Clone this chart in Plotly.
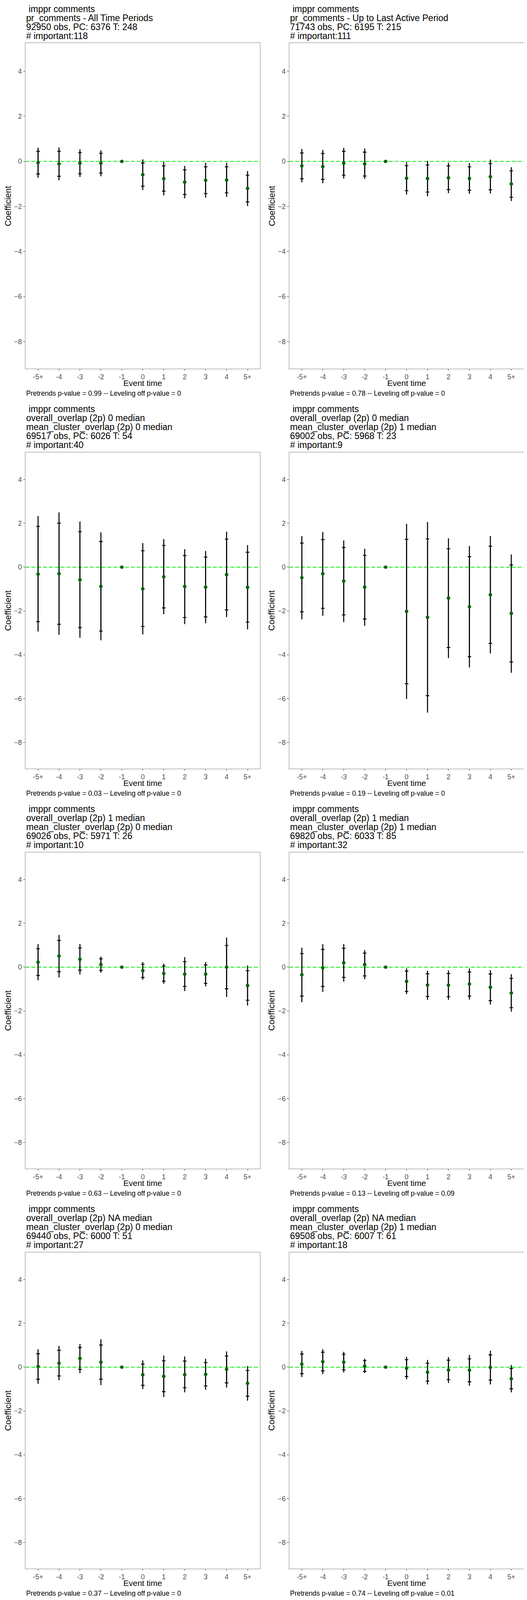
import plotly.graph_objects as go

# event-time categories shared by every panel
event_time = ["-5+", "-4", "-3", "-2", "-1", "0", "1", "2", "3", "4", "5+"]
y_ticks = [-8, -6, -4, -2, 0, 2, 4]

# panel 1: pr_comments - All Time Periods
est_1 = [-0.06, -0.11, -0.08, -0.08, 0, -0.59, -0.77, -0.92, -0.84, -0.83, -1.20]
ci_hi_1 = [0.45, 0.45, 0.39, 0.36, None, -0.07, -0.20, -0.375, -0.24, -0.24, -0.61]
ci_lo_1 = [-0.56, -0.66, -0.55, -0.52, None, -1.10, -1.32, -1.47, -1.43, -1.40, -1.80]
band_hi_1 = [0.61, 0.62, 0.53, 0.49, None, 0.09, -0.02, -0.20, -0.06, -0.06, -0.43]
band_lo_1 = [-0.73, -0.84, -0.69, -0.66, None, -1.27, -1.51, -1.64, -1.61, -1.57, -1.98]

# panel 2: pr_comments - Up to Last Active Period
est_2 = [-0.20, -0.23, -0.08, -0.11, 0, -0.75, -0.76, -0.73, -0.76, -0.68, -1.00]
ci_hi_2 = [0.375, 0.35, 0.45, 0.41, None, -0.19, -0.16, -0.20, -0.24, -0.10, -0.42]
ci_lo_2 = [-0.77, -0.80, -0.61, -0.65, None, -1.30, -1.36, -1.25, -1.28, -1.26, -1.59]
band_hi_2 = [0.55, 0.51, 0.60, 0.57, None, -0.03, 0.02, -0.06, -0.07, 0.08, -0.26]
band_lo_2 = [-0.93, -0.97, -0.76, -0.78, None, -1.47, -1.55, -1.41, -1.44, -1.42, -1.76]

# panel 3: overall 0 / cluster 0
est_3 = [-0.32, -0.30, -0.575, -0.88, 0, -0.99, -0.44, -0.885, -0.91, -0.34, -0.92]
ci_hi_3 = [1.86, 2.01, 1.62, 1.17, None, 0.75, 0.99, 0.53, 0.46, 1.28, 0.68]
ci_lo_3 = [-2.49, -2.61, -2.76, -2.92, None, -2.71, -1.86, -2.30, -2.27, -1.95, -2.51]
band_hi_3 = [2.33, 2.50, 2.08, 1.59, None, 1.10, 1.28, 0.82, 0.74, 1.62, 1.00]
band_lo_3 = [-2.94, -3.09, -3.22, -3.34, None, -3.07, -2.15, -2.60, -2.56, -2.28, -2.84]

# panel 4: overall 0 / cluster 1
est_4 = [-0.48, -0.30, -0.64, -0.91, 0, -2.02, -2.29, -1.41, -1.81, -1.26, -2.11]
ci_hi_4 = [1.10, 1.26, 0.90, 0.54, None, 1.27, 1.29, 0.84, 0.48, 0.96, 0.10]
ci_lo_4 = [-2.04, -1.88, -2.18, -2.37, None, -5.32, -5.87, -3.67, -4.09, -3.48, -4.33]
band_hi_4 = [1.42, 1.60, 1.22, 0.84, None, 1.98, 2.06, 1.32, 0.97, 1.42, 0.58]
band_lo_4 = [-2.38, -2.22, -2.51, -2.68, None, -6.02, -6.64, -4.15, -4.58, -3.94, -4.82]

# panel 5: overall 1 / cluster 0
est_5 = [0.23, 0.51, 0.36, 0.12, 0, -0.16, -0.29, -0.32, -0.32, 0.0, -0.84]
ci_hi_5 = [0.84, 1.22, 0.88, 0.38, None, 0.13, 0.05, 0.25, 0.10, 0.99, -0.16]
ci_lo_5 = [-0.38, -0.21, -0.14, -0.15, None, -0.47, -0.64, -0.88, -0.74, -0.99, -1.51]
band_hi_5 = [1.05, 1.47, 1.06, 0.48, None, 0.23, 0.16, 0.46, 0.23, 1.35, 0.08]
band_lo_5 = [-0.60, -0.47, -0.33, -0.25, None, -0.57, -0.76, -1.09, -0.88, -1.36, -1.75]

# panel 6: overall 1 / cluster 1
est_6 = [-0.35, -0.03, 0.20, 0.12, 0, -0.65, -0.82, -0.82, -0.77, -0.92, -1.18]
ci_hi_6 = [0.62, 0.81, 0.86, 0.64, None, -0.18, -0.30, -0.29, -0.22, -0.31, -0.51]
ci_lo_6 = [-1.32, -0.88, -0.47, -0.40, None, -1.11, -1.34, -1.35, -1.32, -1.53, -1.85]
band_hi_6 = [0.89, 1.05, 1.05, 0.78, None, -0.05, -0.16, -0.15, -0.06, -0.14, -0.32]
band_lo_6 = [-1.60, -1.13, -0.66, -0.55, None, -1.23, -1.49, -1.49, -1.48, -1.71, -2.03]

# panel 7: overall NA / cluster 0
est_7 = [0.03, 0.18, 0.40, 0.23, 0, -0.35, -0.42, -0.34, -0.33, -0.10, -0.74]
ci_hi_7 = [0.61, 0.77, 0.90, 1.01, None, 0.14, 0.29, 0.28, 0.21, 0.51, -0.15]
ci_lo_7 = [-0.55, -0.40, -0.10, -0.55, None, -0.83, -1.12, -0.94, -0.86, -0.72, -1.33]
band_hi_7 = [0.82, 0.97, 1.06, 1.27, None, 0.31, 0.53, 0.49, 0.38, 0.72, 0.05]
band_lo_7 = [-0.76, -0.60, -0.27, -0.82, None, -1.00, -1.36, -1.15, -1.03, -0.93, -1.53]

# panel 8: overall NA / cluster 1
est_8 = [0.14, 0.25, 0.23, 0.05, 0, -0.05, -0.23, -0.13, -0.14, -0.01, -0.53]
ci_hi_8 = [0.60, 0.68, 0.59, 0.30, None, 0.34, 0.18, 0.32, 0.38, 0.56, -0.06]
ci_lo_8 = [-0.30, -0.17, -0.12, -0.19, None, -0.43, -0.64, -0.57, -0.67, -0.59, -0.99]
band_hi_8 = [0.74, 0.82, 0.70, 0.38, None, 0.47, 0.33, 0.46, 0.56, 0.75, 0.10]
band_lo_8 = [-0.45, -0.32, -0.24, -0.27, None, -0.56, -0.79, -0.72, -0.85, -0.79, -1.15]

titles = [
    ["\u00a0imppr comments", "pr_comments - All Time Periods",
     "92950 obs, PC: 6376 T: 248", "# important:118"],
    ["\u00a0imppr comments", "pr_comments - Up to Last Active Period",
     "71743 obs, PC: 6195 T: 215", "# important:111"],
    ["\u00a0imppr comments", "overall_overlap (2p) 0 median",
     "mean_cluster_overlap (2p) 0 median", "69517 obs, PC: 6026 T: 54", "# important:40"],
    ["\u00a0imppr comments", "overall_overlap (2p) 0 median",
     "mean_cluster_overlap (2p) 1 median", "69002 obs, PC: 5968 T: 23", "# important:9"],
    ["\u00a0imppr comments", "overall_overlap (2p) 1 median",
     "mean_cluster_overlap (2p) 0 median", "69026 obs, PC: 5971 T: 26", "# important:10"],
    ["\u00a0imppr comments", "overall_overlap (2p) 1 median",
     "mean_cluster_overlap (2p) 1 median", "69820 obs, PC: 6033 T: 85", "# important:32"],
    ["\u00a0imppr comments", "overall_overlap (2p) NA median",
     "mean_cluster_overlap (2p) 0 median", "69440 obs, PC: 6000 T: 51", "# important:27"],
    ["\u00a0imppr comments", "overall_overlap (2p) NA median",
     "mean_cluster_overlap (2p) 1 median", "69508 obs, PC: 6007 T: 61", "# important:18"],
]

pretrend_p = ["0.99", "0.78", "0.03", "0.19", "0.63", "0.13", "0.37", "0.74"]
leveling_p = ["0", "0", "0", "0", "0", "0.09", "0", "0.01"]

panels = [
    (est_1, ci_lo_1, ci_hi_1, band_lo_1, band_hi_1),
    (est_2, ci_lo_2, ci_hi_2, band_lo_2, band_hi_2),
    (est_3, ci_lo_3, ci_hi_3, band_lo_3, band_hi_3),
    (est_4, ci_lo_4, ci_hi_4, band_lo_4, band_hi_4),
    (est_5, ci_lo_5, ci_hi_5, band_lo_5, band_hi_5),
    (est_6, ci_lo_6, ci_hi_6, band_lo_6, band_hi_6),
    (est_7, ci_lo_7, ci_hi_7, band_lo_7, band_hi_7),
    (est_8, ci_lo_8, ci_hi_8, band_lo_8, band_hi_8),
]

# the screenshot only keeps ~4096 px of height, so the 4800 px layout is
# squeezed vertically to fit; page body has an 8 px margin
OFF = 8
FW, FH = 1350 - OFF, 4080
S = 4096 / 4800
ROW_H = 1200
FONT = "Liberation Sans, Arial, Helvetica, sans-serif"
col_px = [(65.3, 666.3), (741.0, 1342.0)]
panel_bottom = 1106


def px(x):
    return (x - OFF) / FW


def py(y):
    # y measured on the 4800 px reference
    return 1 - (y * S - OFF) / FH


def py_page(y):
    # y measured on the squeezed page
    return 1 - (y - OFF) / FH


def up(a, b):
    return [None if hi is None else hi - e for hi, e in zip(a, b)]


def down(a, b):
    return [None if lo is None else e - lo for lo, e in zip(a, b)]


fig = go.Figure()
annotations = []
shapes = []
layout = {}

for i, (est, ci_lo, ci_hi, band_lo, band_hi) in enumerate(panels):
    row, col = divmod(i, 2)
    base = row * ROW_H
    n_lines = len(titles[i])
    top = base + 20.5 + 27.2 * n_lines
    bottom = base + panel_bottom
    left, right = col_px[col]
    xa = "x" if i == 0 else f"x{i + 1}"
    ya = "y" if i == 0 else f"y{i + 1}"

    # outer band: plain vertical line
    fig.add_trace(go.Scatter(
        x=event_time, y=est, xaxis=xa, yaxis=ya, mode="markers",
        marker=dict(size=1, color="rgba(0,0,0,0)"),
        error_y=dict(type="data", symmetric=False,
                     array=up(band_hi, est), arrayminus=down(band_lo, est),
                     color="black", thickness=2.6, width=0),
        showlegend=False, hoverinfo="skip",
    ))
    # inner interval with cross ticks, plus the point estimate
    fig.add_trace(go.Scatter(
        x=event_time, y=est, xaxis=xa, yaxis=ya, mode="markers",
        marker=dict(size=9, color="#006400"),
        error_y=dict(type="data", symmetric=False,
                     array=up(ci_hi, est), arrayminus=down(ci_lo, est),
                     color="black", thickness=2.4, width=4.5),
        showlegend=False,
    ))

    axis_common = dict(showgrid=False, zeroline=False, showline=True, mirror=True,
                       linecolor="#7F7F7F", linewidth=1.4, ticks="outside",
                       ticklen=4.5, tickwidth=1.2, tickcolor="#333333",
                       tickfont=dict(family=FONT, size=17.6, color="#4D4D4D"))
    layout["xaxis" if i == 0 else f"xaxis{i + 1}"] = dict(
        axis_common, domain=[px(left), px(right)], anchor=ya,
        type="category", categoryorder="array", categoryarray=event_time,
        range=[-0.6, 10.6])
    layout["yaxis" if i == 0 else f"yaxis{i + 1}"] = dict(
        axis_common, domain=[py(bottom), py(top)], anchor=xa,
        range=[-9.2, 5.25], tickvals=y_ticks)

    shapes.append(dict(type="line", xref=f"{xa} domain", yref=ya,
                       x0=0, x1=1, y0=0, y1=0, layer="below",
                       line=dict(color="#00EE00", width=2, dash="10px,5px")))

    for k, line in enumerate(titles[i]):
        annotations.append(dict(text=line, x=px(left), y=py_page(base * S + 23 + 23 * k),
                                xref="paper", yref="paper", xanchor="left", yanchor="middle",
                                showarrow=False, font=dict(family=FONT, size=23, color="black")))
    annotations.append(dict(text="Event time", x=px((left + right) / 2), y=py(base + 1149),
                            xref="paper", yref="paper", xanchor="center", yanchor="middle",
                            showarrow=False, font=dict(family=FONT, size=21, color="black")))
    annotations.append(dict(text="Coefficient", x=px(left - 45), y=py((top + bottom) / 2),
                            xref="paper", yref="paper", xanchor="center", yanchor="middle",
                            textangle=-90, showarrow=False,
                            font=dict(family=FONT, size=22, color="black")))
    caption = f"Pretrends p-value = {pretrend_p[i]} -- Leveling off p-value = {leveling_p[i]}"
    annotations.append(dict(text=caption, x=px(left), y=py(base + 1180),
                            xref="paper", yref="paper", xanchor="left", yanchor="middle",
                            showarrow=False, font=dict(family=FONT, size=17.6, color="black")))

fig.update_layout(
    width=FW, height=FH,
    margin=dict(l=0, r=0, t=0, b=0),
    paper_bgcolor="white", plot_bgcolor="white",
    font=dict(family=FONT),
    annotations=annotations, shapes=shapes,
    **layout,
)

fig.write_html("out.html")
